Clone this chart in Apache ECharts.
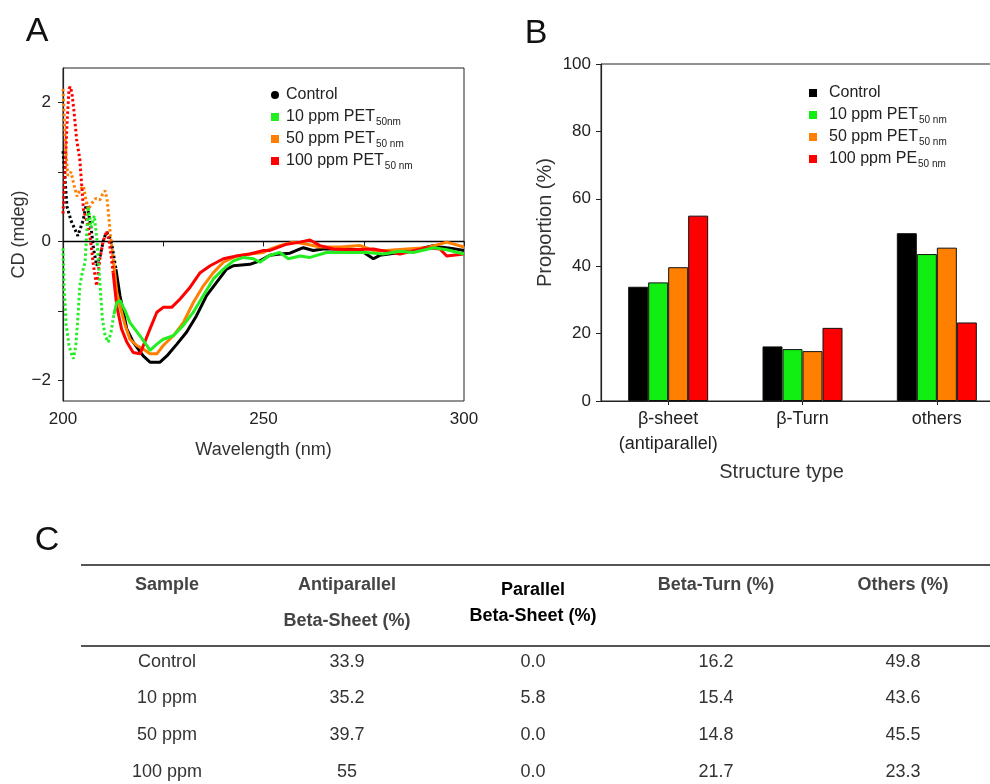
<!DOCTYPE html>
<html><head><meta charset="utf-8">
<script src="https://cdn.jsdelivr.net/npm/echarts@6/dist/echarts.min.js"></script>
<style>html,body{margin:0;padding:0;background:#fff}#c{width:990px;height:784px}</style>
</head><body><div id="c"></div>
<script>
// ---------- Panel A : CD spectra ----------
const ctrlWl = [200,200.5,201,202,203,203.7,205,205.9,207,207.6,208.4,209.3,210.2,210.9,211.5,212.2,213.2,214.2,215.9,217.5,220,221.7,223,224.2,225.9,228.4,230.8,233.3,235.8,238.3,240.8,242.5,246.6,249.1,251.6,254.1,256.6,259.9,262.4,264.9,270.7,274,277.4,279,284,288,292.3,294,297,300];
const ctrlCd = [1.3,0.9,0.5,0.3,0.17,0.08,0.3,0.56,0.2,-0.1,-0.35,-0.2,0.05,0.13,0.08,-0.05,-0.4,-0.78,-1.26,-1.45,-1.65,-1.74,-1.74,-1.74,-1.65,-1.48,-1.31,-1.07,-0.78,-0.59,-0.40,-0.35,-0.33,-0.28,-0.2,-0.18,-0.17,-0.09,-0.13,-0.11,-0.11,-0.12,-0.25,-0.2,-0.16,-0.12,-0.06,-0.08,-0.1,-0.13];
const p10Wl = [200,200.3,200.8,201.5,202.1,202.6,203.2,203.7,204.2,204.8,205.5,206.3,207.0,207.8,208.5,209.2,209.8,210.5,211.3,212.0,212.7,213.4,214.2,215.5,216.7,219.2,220.9,221.7,223.4,225,227.5,230,232.5,235,237.5,240,242.5,245,247.5,249.1,251.6,254.1,256.2,259.1,261.6,265.7,270.7,275.7,279.9,284,287.4,292.4,295.7,300];
const p10Cd = [-0.1,-0.7,-1.2,-1.5,-1.62,-1.69,-1.5,-1.1,-0.64,-0.45,-0.3,0.5,0.2,0.37,0.0,-0.6,-1.1,-1.36,-1.45,-1.3,-1.05,-0.88,-0.85,-1.0,-1.17,-1.36,-1.5,-1.57,-1.48,-1.41,-1.36,-1.21,-1.02,-0.78,-0.54,-0.40,-0.28,-0.23,-0.25,-0.3,-0.2,-0.16,-0.25,-0.21,-0.23,-0.16,-0.16,-0.16,-0.18,-0.14,-0.16,-0.09,-0.12,-0.18];
const p50Wl = [200,200.3,200.7,201.2,202,202.8,203.5,204.3,205.1,205.7,206.3,207.2,208.2,209.2,210.0,210.5,211.0,211.4,211.8,212.6,213.4,214.2,215.5,216.7,218.4,220,221.7,223.4,225,227.5,230,232.5,235,237.5,240,243.3,246.6,250,251.6,254.1,257.4,260.8,264.1,269.1,274.1,277.4,280.7,285.7,290.7,295.7,300];
const p50Cd = [2.2,1.8,1.3,0.95,1.0,0.8,0.65,0.75,0.8,0.6,0.46,0.55,0.62,0.6,0.7,0.73,0.6,0.37,0.1,-0.3,-0.73,-0.93,-1.21,-1.41,-1.50,-1.55,-1.62,-1.62,-1.5,-1.36,-1.17,-0.88,-0.64,-0.45,-0.30,-0.21,-0.18,-0.16,-0.11,-0.06,-0.01,-0.04,-0.08,-0.08,-0.06,-0.13,-0.13,-0.11,-0.09,-0.01,-0.08];
const p100Wl = [200,200.5,201,201.5,201.8,202.2,202.7,203.4,204.2,205.1,206.3,207.0,207.6,208.4,209.2,210.0,210.9,211.5,212.1,212.5,213.4,214.6,215.9,217.5,219.2,220.4,221.7,223.4,225,227.1,229.2,231.7,234.2,236.7,240,243.3,246.6,250,251.6,255.8,259.1,261.6,264.1,267.4,271.6,277.4,284,290.7,294,295.7,300];
const p100Cd = [0.4,1.0,1.7,2.2,2.23,2.15,1.9,1.47,1.18,0.46,0.22,-0.05,-0.35,-0.64,-0.25,0.0,0.15,0.0,-0.25,-0.45,-0.93,-1.26,-1.45,-1.60,-1.62,-1.45,-1.26,-1.02,-0.95,-0.95,-0.83,-0.66,-0.45,-0.35,-0.25,-0.21,-0.18,-0.13,-0.13,-0.04,-0.01,0.02,-0.06,-0.11,-0.12,-0.11,-0.18,-0.09,-0.11,-0.21,-0.18];
const cdNames = ['Control','10 ppm PET','50 ppm PET','100 ppm PET'];
const cdColors = ['#000000','#22ee22','#ff8000','#ff0000'];
const cdYLabels = [-2,0,2];
const cdYTicks = [-2,-1,0,1,2];
const noisyEnd = 212.3; // spectrum drawn dotted below this wavelength

// ---------- Panel B : structure proportions ----------
const structCats = ['β-sheet\n(antiparallel)','β-Turn','others'];
const samples = ['Control','10 ppm','50 ppm','100 ppm'];
const antiparallelPct = [33.9,35.2,39.7,55];
const parallelPct = [0.0,5.8,0.0,0.0];
const turnPct = [16.2,15.4,14.8,21.7];
const othersPct = [49.8,43.6,45.5,23.3];
const barNames = ['B Control','B 10 ppm','B 50 ppm','B 100 ppm'];
const barColors = ['#000000','#11ee11','#ff8000','#ff0000'];

const FONT = '"Liberation Sans", Arial, sans-serif';

function zip(a,b){ return a.map((v,i)=>[v,b[i]]); }
const cdSets = [[ctrlWl,ctrlCd],[p10Wl,p10Cd],[p50Wl,p50Cd],[p100Wl,p100Cd]];
const drawOrder = [0,2,3,1];
const series = [];
drawOrder.forEach((k,ord)=>{
  const pts = zip(cdSets[k][0], cdSets[k][1]);
  const cut = pts.findIndex(p=>p[0] > noisyEnd);
  const dotted = pts.slice(0, cut+1);
  const solid = pts.slice(cut);
  series.push({type:'line', name:cdNames[k], xAxisIndex:0, yAxisIndex:0, data:dotted, symbol:'none', z:2+ord,
    color:cdColors[k], lineStyle:{color:cdColors[k], width:3, type:[2.5,2.5]}, animation:false});
  const s = {type:'line', name:cdNames[k], xAxisIndex:0, yAxisIndex:0, data:solid, symbol:'none', z:2+ord,
    color:cdColors[k], lineStyle:{color:cdColors[k], width:3}, animation:false};
  if (ord===0) s.markLine = {silent:true, symbol:'none', label:{show:false}, lineStyle:{color:'#000', width:1.3, type:'solid'}, data:[{yAxis:0}], z:1};
  series.push(s);
});
const barData = [0,1,2,3].map(i=>[antiparallelPct[i], turnPct[i], othersPct[i]]);
barData.forEach((d,i)=>{
  series.push({type:'bar', name:barNames[i], xAxisIndex:1, yAxisIndex:1, data:d, barWidth:20, barGap:'0%',
    itemStyle:{color:barColors[i], borderColor:'#111', borderWidth:1}, animation:false});
});

const legendTextA = {'Control':'{m|Control}{s| }','10 ppm PET':'{m|10 ppm PET}{s|50nm}','50 ppm PET':'{m|50 ppm PET}{s|50 nm}','100 ppm PET':'{m|100 ppm PET}{s|50 nm}'};
const legendTextB = {'B Control':'{m|Control}{s| }','B 10 ppm':'{m|10 ppm PET}{s|50 nm}','B 50 ppm':'{m|50 ppm PET}{s|50 nm}','B 100 ppm':'{m|100 ppm PE}{s|50 nm}'};
const richLeg = (padL)=>({
  m:{fontSize:16, fontFamily:FONT, color:'#222', lineHeight:20, padding:[0,0,0,padL]},
  s:{fontSize:10, fontFamily:FONT, color:'#222', lineHeight:20, padding:[10,0,0,1]}
});

// ---------- Panel C : table ----------
const tbl = [];
const colX = [167,347,533,716,903];
const rowY = [662,698,735,772];
const cols = [samples, antiparallelPct.map(v=>String(v)), parallelPct.map(v=>v.toFixed(1)), turnPct.map(v=>v.toFixed(1)), othersPct.map(v=>v.toFixed(1))];
cols.forEach((col,c)=>col.forEach((t,r)=>tbl.push({type:'text', x:colX[c], y:rowY[r], style:{text:t, font:'18px '+FONT, fill:'#333', align:'center', verticalAlign:'middle'}})));
const hdr = (t,x,y,col)=>({type:'text', x:x, y:y, style:{text:t, font:'bold 18px '+FONT, fill:col||'#444', align:'center', verticalAlign:'middle'}});
tbl.push(hdr('Sample',167,585), hdr('Antiparallel',347,585), hdr('Beta-Sheet (%)',347,621),
  hdr('Parallel',533,590,'#000'), hdr('Beta-Sheet (%)',533,616,'#000'),
  hdr('Beta-Turn (%)',716,585), hdr('Others (%)',903,585));
tbl.push({type:'line', shape:{x1:81,y1:565,x2:990,y2:565}, style:{stroke:'#555', lineWidth:2}});
tbl.push({type:'line', shape:{x1:81,y1:646,x2:990,y2:646}, style:{stroke:'#555', lineWidth:2}});
const letters = [['A',37,32],['B',536,34],['C',47,541]].map(l=>({type:'text', x:l[1], y:l[2], style:{text:l[0], font:'34px '+FONT, fill:'#111', align:'center', verticalAlign:'middle'}}));

const axisTxt = {color:'#222', fontFamily:FONT, fontSize:17};
const option = {
  backgroundColor:'#fff',
  animation:false,
  grid:[
    {left:63, top:68, width:401, height:333, show:true, borderColor:'#222', borderWidth:1, outerBoundsMode:'none', containLabel:false},
    {left:601, top:64, width:403, height:337, show:true, borderColor:'#222', borderWidth:1, outerBoundsMode:'none', containLabel:false}
  ],
  xAxis:[
    {type:'value', gridIndex:0, min:200, max:300, interval:50,
      name:'Wavelength (nm)', nameLocation:'middle', nameGap:40, nameTextStyle:{color:'#333', fontFamily:FONT, fontSize:18},
      axisLine:{lineStyle:{color:'#222', width:1.2}}, axisTick:{show:true, length:5, lineStyle:{color:'#222'}},
      minorTick:{show:true, splitNumber:2, length:5, lineStyle:{color:'#222'}},
      axisLabel:Object.assign({margin:10}, axisTxt), splitLine:{show:false}},
    {type:'category', gridIndex:1, data:structCats,
      name:'Structure type', nameLocation:'middle', nameGap:61, nameTextStyle:{color:'#333', fontFamily:FONT, fontSize:20, padding:[0,42,0,0]},
      axisLine:{lineStyle:{color:'#222', width:1.2}}, axisTick:{show:true, alignWithLabel:true, length:4, lineStyle:{color:'#222'}},
      axisLabel:{margin:6, lineHeight:25, interval:0, color:'#222', fontFamily:FONT, fontSize:18}}
  ],
  yAxis:[
    {type:'value', gridIndex:0, min:-2.3, max:2.5,
      name:'CD (mdeg)', nameLocation:'middle', nameGap:34, nameTextStyle:{color:'#333', fontFamily:FONT, fontSize:18},
      axisLine:{show:true, lineStyle:{color:'#222', width:1.2}},
      axisTick:{show:true, length:5, customValues:cdYTicks, lineStyle:{color:'#222'}},
      axisLabel:Object.assign({margin:12, customValues:cdYLabels, formatter:v=>String(v).replace('-','\u2212')}, axisTxt),
      splitLine:{show:false}},
    {type:'value', gridIndex:1, min:0, max:100, interval:20,
      name:'Proportion (%)', nameLocation:'middle', nameGap:46, nameTextStyle:{color:'#333', fontFamily:FONT, fontSize:20, padding:[0,0,0,20]},
      axisLine:{show:true, lineStyle:{color:'#222', width:1.2}}, axisTick:{show:true, length:5, lineStyle:{color:'#222'}},
      axisLabel:Object.assign({margin:10}, axisTxt), splitLine:{show:false}}
  ],
  legend:[
    {orient:'vertical', left:266, top:80, itemWidth:8, itemHeight:8, itemGap:2,
      data:cdNames.map((n,i)=>({name:n, icon:i===0?'circle':'rect'})),
      itemStyle:{borderWidth:0},
      formatter:n=>legendTextA[n], textStyle:{rich:richLeg(2)}, selectedMode:false},
    {orient:'vertical', left:804, top:78, itemWidth:8, itemHeight:8, itemGap:2,
      data:barNames.map(n=>({name:n, icon:'rect'})),
      itemStyle:{borderWidth:0},
      formatter:n=>legendTextB[n], textStyle:{rich:richLeg(7)}, selectedMode:false}
  ],
  series:series,
  graphic:letters.concat(tbl)
};
const chart = echarts.init(document.getElementById('c'), null, {renderer:'canvas'});
chart.setOption(option);
</script></body></html>
